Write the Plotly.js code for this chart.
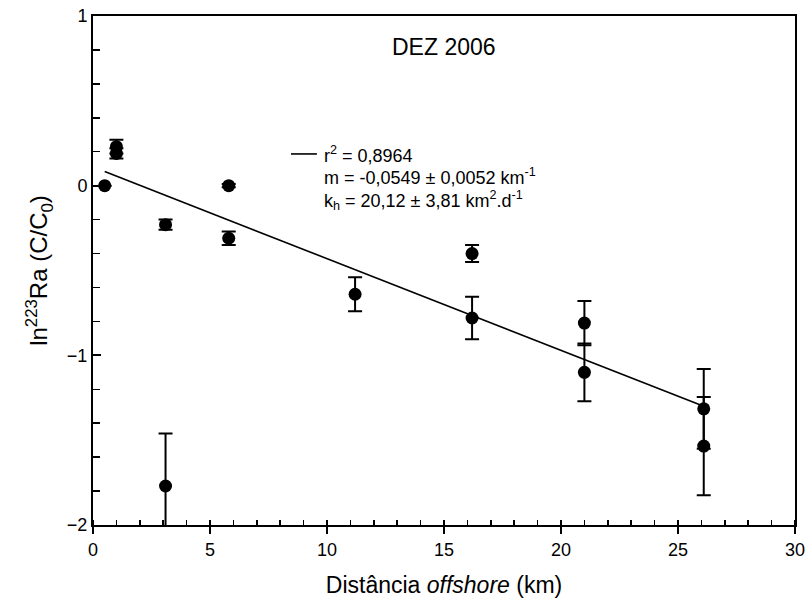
<!DOCTYPE html>
<html>
<head>
<meta charset="utf-8">
<script src="https://cdn.plot.ly/plotly-3.0.1.min.js"></script>
<style>html,body{margin:0;padding:0;background:#fff}#chart{width:808px;height:608px}</style>
</head>
<body>
<div id="chart"></div>
<script>
// Data
const distanceKm = [0.5, 1.0, 1.0, 3.1, 3.1, 5.8, 5.8, 11.2, 16.2, 16.2, 21.0, 21.0, 26.1, 26.1];
const lnRa = [0.0, 0.23, 0.19, -0.23, -1.77, 0.0, -0.31, -0.64, -0.40, -0.78, -0.81, -1.10, -1.315, -1.535];
const lnRaErr = [0.0, 0.04, 0.03, 0.03, 0.31, 0.01, 0.04, 0.10, 0.05, 0.125, 0.13, 0.17, 0.235, 0.29];
const fitX = [0.5, 26.1];
const fitY = [0.083, -1.30];
const titleText = 'DEZ 2006';
const legendLines = [
  'r<sup>2</sup> = 0,8964',
  'm = -0,0549 ± 0,0052 km<sup>-1</sup>',
  'k<sub>h</sub> = 20,12 ± 3,81 km<sup>2</sup>.d<sup>-1</sup>'
];
const xTitle = 'Distância <i>offshore</i> (km)';
const yTitle = 'ln<sup>223</sup>Ra (C/C<sub>0</sub>)';

const FONT = 'Liberation Sans, Arial, sans-serif';

const traces = [
  {
    x: fitX, y: fitY, type: 'scatter', mode: 'lines',
    line: {color: '#000', width: 1.6}, showlegend: false, hoverinfo: 'skip'
  },
  {
    x: distanceKm, y: lnRa, type: 'scatter', mode: 'markers',
    marker: {color: '#000', size: 13, symbol: 'circle'},
    error_y: {type: 'data', array: lnRaErr, visible: true, color: '#000', thickness: 2, width: 7},
    showlegend: false
  }
];

const legendYs = [0.727, 0.684, 0.6385];
const annotations = legendLines.map((t, i) => ({
  text: t, xref: 'paper', yref: 'paper', x: 0.326, y: legendYs[i],
  xanchor: 'left', yanchor: 'middle', showarrow: false,
  font: {family: FONT, size: 18, color: '#000'}
}));
annotations.push({
  text: titleText, xref: 'paper', yref: 'paper', x: 0.5, y: 0.939,
  xanchor: 'center', yanchor: 'middle', showarrow: false,
  font: {family: FONT, size: 23, color: '#000'}
});

const layout = {
  width: 808, height: 608,
  margin: {l: 93, r: 13, t: 16, b: 83},
  paper_bgcolor: '#fff', plot_bgcolor: '#fff',
  font: {family: FONT, color: '#000'},
  showlegend: false,
  xaxis: {
    range: [0, 30], dtick: 5, tick0: 0,
    showgrid: false, zeroline: false,
    showline: true, mirror: true, linecolor: '#000', linewidth: 2,
    ticks: 'outside', ticklen: 7, tickwidth: 2, tickcolor: '#000',
    minor: {ticks: 'inside', dtick: 1, ticklen: 5, tickwidth: 1.5, tickcolor: '#000', showgrid: false},
    tickfont: {family: FONT, size: 18, color: '#000'},
    title: {text: xTitle, font: {family: FONT, size: 23, color: '#000'}, standoff: 18},
    automargin: false
  },
  yaxis: {
    range: [-2, 1], dtick: 1, tick0: 0,
    showgrid: false, zeroline: false,
    showline: true, mirror: true, linecolor: '#000', linewidth: 2,
    ticks: 'inside', ticklen: 8, tickwidth: 2, tickcolor: '#000',
    minor: {ticks: 'inside', dtick: 0.2, ticklen: 7, tickwidth: 1.5, tickcolor: '#000', showgrid: false},
    tickfont: {family: FONT, size: 18, color: '#000'},
    title: {text: yTitle, font: {family: FONT, size: 24, color: '#000'}, standoff: 12},
    automargin: false
  },
  shapes: [{
    type: 'line', xref: 'paper', yref: 'paper',
    x0: 0.282, x1: 0.319, y0: 0.729, y1: 0.729,
    line: {color: '#000', width: 1.6}
  }],
  annotations: annotations
};

Plotly.newPlot('chart', traces, layout, {displayModeBar: false, staticPlot: true});
</script>
</body>
</html>
